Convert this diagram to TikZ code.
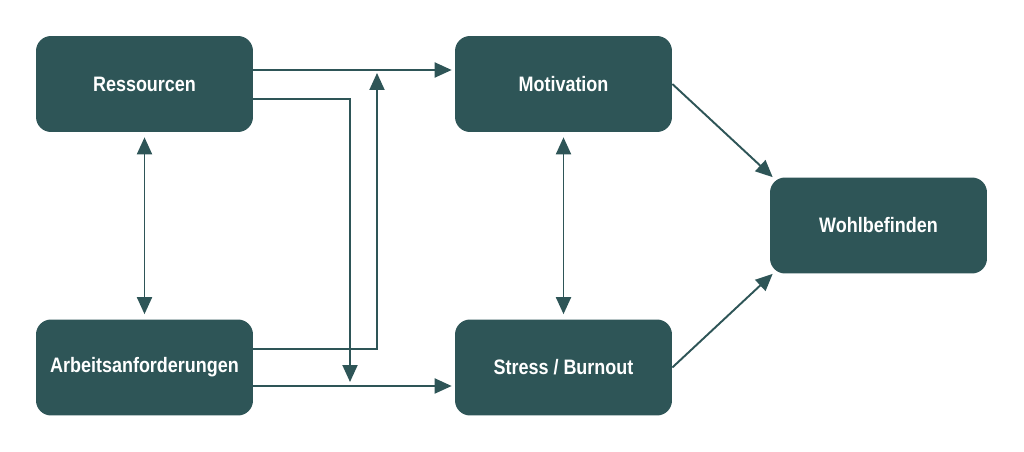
\documentclass[tikz,border=0pt]{standalone}
\usepackage{fontspec}
\setmainfont{Liberation Sans}[FakeStretch=0.86]
\usetikzlibrary{arrows.meta}
\definecolor{petrol}{HTML}{2E5557}

\begin{document}
\begin{tikzpicture}[x=0.02cm,y=-0.02cm,line cap=butt,line join=miter,
  box/.style={fill=petrol,rounded corners=0.3cm,minimum width=4.34cm,
    minimum height=1.92cm,text=white,font=\bfseries\fontsize{11.9}{14}\selectfont},
  flow/.style={draw=petrol,line width=1.1pt,-{Triangle[length=0.34cm,width=0.3cm]}},
  both/.style={flow,{Triangle[length=0.34cm,width=0.3cm]}-{Triangle[length=0.34cm,width=0.3cm]}}]
  \useasboundingbox (0,0) rectangle (1024,452);

  % Kästen
  \node[box] (res)  at (144.5,84)    {Ressourcen};
  \node[box] (arb)  at (144.5,367.5) {Arbeitsanforderungen};
  \node[box] (mot)  at (563.5,84)    {Motivation};
  \node[box] (str)  at (563.5,367.5) {Stress / Burnout};
  \node[box] (wohl) at (878.5,225.5) {Wohlbefinden};

  % Enden der gekreuzten Pfeile
  \coordinate (dn) at (350,382);
  \coordinate (up) at (377,73);

  % Pfeile
  \draw[flow,shorten >=0.06cm] ([yshift=0.28cm]res.east) -- ([yshift=0.28cm]mot.west);
  \draw[flow] ([yshift=-0.3cm]res.east) -| (dn);
  \draw[flow] ([yshift=0.37cm]arb.east) -| (up);
  \draw[flow,shorten >=0.06cm] ([yshift=-0.37cm]arb.east) -- ([yshift=-0.37cm]str.west);

  \draw[both,shorten <=0.1cm,shorten >=0.1cm] (res.south) -- (arb.north);
  \draw[both,shorten <=0.1cm,shorten >=0.1cm] (mot.south) -- (str.north);

  \draw[flow] (mot.east) -- ([xshift=0.06cm]wohl.north west);
  \draw[flow] (str.east) -- ([xshift=0.06cm]wohl.south west);
\end{tikzpicture}
\end{document}
